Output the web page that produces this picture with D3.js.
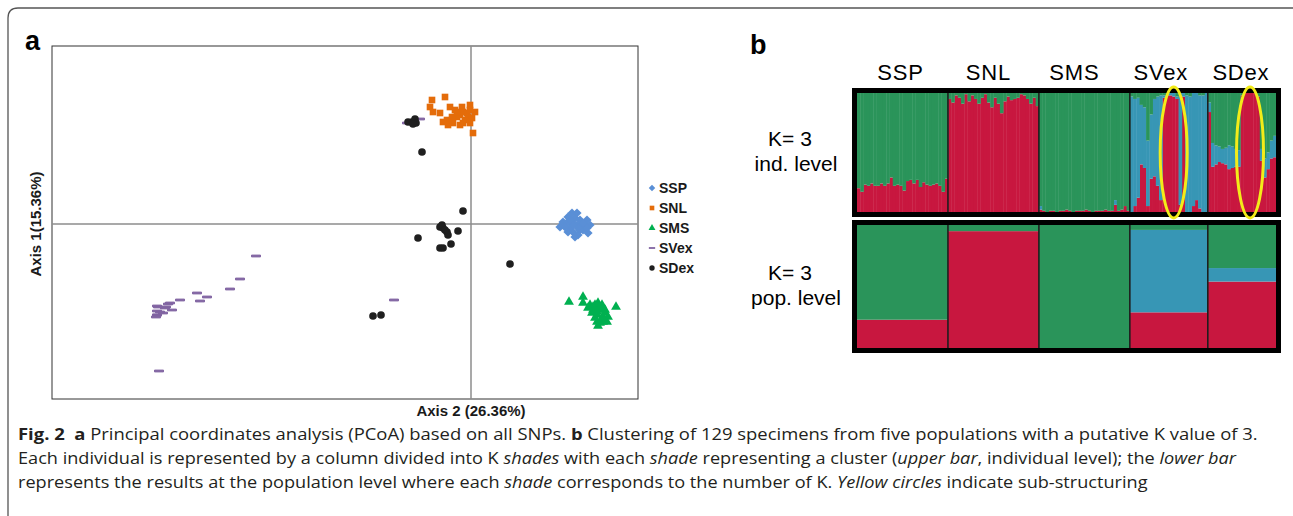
<!DOCTYPE html>
<html>
<head>
<meta charset="utf-8">
<script src="https://cdn.jsdelivr.net/npm/d3@7"></script>
<style>
  body { margin: 0; background: #fff; }
  svg { display: block; font-family: Arial, "Liberation Sans", sans-serif; }
</style>
</head>
<body>
<script>
// PCoA coordinates per population: [axis 2, axis 1]
var sspPoints = [[0.089,-0.003],[0.092,0.002],[0.097,0.007],[0.101,0.011],[0.104,0.006],[0.109,0.004],[0.116,0.004],
  [0.119,-0.001],[0.117,-0.009],[0.112,-0.006],[0.107,-0.011],[0.102,-0.008],[0.099,-0.004],[0.106,-0.001],
  [0.111,-0.001],[0.096,0.001],[0.101,0.002],[0.106,0.011],[0.114,-0.003],[0.109,-0.006],[0.104,-0.013],
  [0.097,-0.008],[0.094,-0.003],[0.116,-0.004],[0.107,-0.004],[0.102,-0.001],[0.099,0.004],[0.112,0.001]];
var snlPoints = [[-0.039,0.124],[-0.026,0.127],[-0.041,0.117],[-0.038,0.112],[-0.031,0.111],[-0.021,0.117],
  [-0.016,0.114],[-0.009,0.117],[-0.001,0.119],[0.004,0.112],[-0.004,0.111],[-0.011,0.109],[-0.024,0.104],
  [-0.018,0.101],[-0.014,0.107],[-0.006,0.104],[-0.001,0.101],[0.002,0.091],[-0.008,0.112],[-0.019,0.107],
  [-0.003,0.107],[-0.023,0.099],[-0.011,0.099],[0.001,0.106],[-0.028,0.102],[-0.014,0.112],[-0.001,0.114],
  [-0.008,0.101]];
var smsPoints = [[0.098,-0.078],[0.112,-0.073],[0.112,-0.079],[0.119,-0.081],[0.124,-0.081],[0.127,-0.079],
  [0.131,-0.081],[0.145,-0.083],[0.122,-0.086],[0.129,-0.086],[0.134,-0.089],[0.126,-0.091],[0.131,-0.094],
  [0.126,-0.098],[0.136,-0.098],[0.127,-0.102],[0.132,-0.093],[0.122,-0.083],[0.128,-0.083],[0.132,-0.084],
  [0.121,-0.089],[0.126,-0.088],[0.132,-0.098],[0.137,-0.093],[0.124,-0.094],[0.129,-0.099],[0.134,-0.086],
  [0.117,-0.084]];
var svexPoints = [[-0.215,-0.032],[-0.231,-0.055],[-0.241,-0.065],[-0.274,-0.069],[-0.264,-0.073],[-0.291,-0.076],
  [-0.271,-0.077],[-0.303,-0.080],[-0.314,-0.082],[-0.305,-0.083],[-0.299,-0.086],[-0.314,-0.087],[-0.308,-0.089],
  [-0.314,-0.091],[-0.315,-0.093],[-0.077,-0.076],[-0.312,-0.147],[-0.064,0.101],[-0.051,0.105],[-0.313,-0.083],
  [-0.314,-0.091],[-0.306,-0.084],[-0.301,-0.079],[-0.311,-0.088]];
var sdexPoints = [[-0.059,0.102],[-0.056,0.105],[-0.055,0.101],[-0.063,0.102],[-0.049,0.072],[-0.008,0.013],
  [-0.031,-0.003],[-0.028,-0.004],[-0.024,-0.008],[-0.023,-0.011],[-0.053,-0.014],[-0.013,-0.007],[-0.020,-0.020],
  [-0.031,-0.024],[-0.028,-0.024],[0.039,-0.040],[-0.098,-0.092],[-0.090,-0.091],[-0.029,-0.001],[-0.058,0.100],
  [-0.026,-0.006]];

var populations = ['SSP', 'SNL', 'SMS', 'SVex', 'SDex'];

// STRUCTURE K=3, individual level: membership of red and blue clusters (green is the rest)
var sspRed = [0.20,0.17,0.23,0.22,0.24,0.22,0.22,0.24,0.22,0.24,0.29,0.22,0.23,0.22,0.18,0.26,0.27,0.24,0.27,0.21,
  0.25,0.23,0.22,0.23,0.24,0.22,0.17,0.28];
var snlRed = [0.95,0.92,0.98,0.96,0.91,0.99,0.93,0.98,0.95,0.91,0.96,0.99,0.92,0.88,0.96,0.91,0.83,0.93,0.97,0.94,
  0.95,0.96,0.99,0.98,0.95,0.91,0.96,0.89];
var smsRed = [0.02,0.01,0,0.01,0.01,0,0.01,0.01,0.02,0.01,0,0.01,0.01,0.01,0.02,0.01,0,0.01,0.01,0.01,
  0.02,0.01,0.01,0.06,0.01,0.02,0.05,0.01];
var smsBlue = [0.03,0,0,0,0,0,0,0,0,0,0,0,0,0,0,0,0,0,0,0,0,0,0,0.04,0,0,0,0];
var svexRed = [0,0.05,0.12,0.40,0.37,0.05,0.28,0.30,0.22,0.10,0.96,0.98,0.98,0.97,0.95,0.06,0.97,0,0,0.05,
  0.10,0.03,0,0];
var svexBlue = [0.97,0.90,0.84,0.50,0.51,0.55,0.54,0.65,0.75,0.88,0.02,0.02,0.02,0.03,0.02,0.94,0.03,0.98,0.97,0.95,
  0.90,0.95,0.98,1.0];
var sdexRed = [0.84,0.38,0.40,0.42,0.41,0.40,0.36,0.37,0.38,0.38,0.98,1,1,1,1,0.97,0.43,0.29,0.36,0.45,0.46];
var sdexBlue = [0.08,0.20,0.16,0.13,0.12,0.14,0.20,0.18,0.15,0.14,0,0,0,0,0,0,0.10,0.16,0.14,0.15,0.18];

// population level
var popRed = [0.23, 0.95, 0, 0.29, 0.54];
var popBlue = [0, 0, 0, 0.67, 0.11];

// individuals circled in yellow: [population, first, last]
var subStructure = [['SVex', 10, 16], ['SDex', 10, 15]];

var width = 1293;
var height = 516;

var svg = d3.select('body').append('svg')
  .attr('width', width)
  .attr('height', height);

// outer figure frame (top-left corner only is visible)
svg.append('path')
  .attr('d', 'M8,' + height + ' L8,18 Q8,8 18,8 L' + width + ',8')
  .attr('fill', 'none')
  .attr('stroke', '#555')
  .attr('stroke-width', 1.3);

renderPCoA();
renderStructure();
renderCaption();

function renderPCoA() {
  var x = d3.scaleLinear().domain([-0.419, 0.167]).range([52, 638]);
  var y = d3.scaleLinear().domain([-0.175, 0.178]).range([399, 46]);

  svg.append('text')
    .attr('x', 25).attr('y', 50)
    .attr('font-size', 27).attr('font-weight', 'bold')
    .text('a');

  svg.append('rect')
    .attr('x', x.range()[0]).attr('y', y.range()[1])
    .attr('width', x.range()[1] - x.range()[0])
    .attr('height', y.range()[0] - y.range()[1])
    .attr('fill', 'none')
    .attr('stroke', '#333')
    .attr('stroke-width', 1);

  // zero axes
  svg.append('line')
    .attr('x1', x(0)).attr('x2', x(0))
    .attr('y1', y.range()[1]).attr('y2', y.range()[0])
    .attr('stroke', '#8c8c8c').attr('stroke-width', 1.5);
  svg.append('line')
    .attr('x1', x.range()[0]).attr('x2', x.range()[1])
    .attr('y1', y(0)).attr('y2', y(0))
    .attr('stroke', '#8c8c8c').attr('stroke-width', 1.5);

  svg.append('text')
    .attr('x', x(0)).attr('y', 416)
    .attr('text-anchor', 'middle')
    .attr('font-size', 15).attr('font-weight', 'bold')
    .attr('fill', '#1a1a1a')
    .text('Axis 2 (26.36%)');

  svg.append('text')
    .attr('transform', 'translate(41,' + y(0) + ') rotate(-90)')
    .attr('text-anchor', 'middle')
    .attr('font-size', 15).attr('font-weight', 'bold')
    .attr('fill', '#1a1a1a')
    .text('Axis 1(15.36%)');

  var series = [
    {name: 'SSP', points: sspPoints, color: '#5a8fd6', shape: 'diamond'},
    {name: 'SNL', points: snlPoints, color: '#e46c0a', shape: 'square'},
    {name: 'SMS', points: smsPoints, color: '#00b050', shape: 'triangle'},
    {name: 'SVex', points: svexPoints, color: '#8064a2', shape: 'dash'},
    {name: 'SDex', points: sdexPoints, color: '#1f1f1f', shape: 'circle'}
  ];

  series.forEach(function(s) {
    var g = svg.append('g').attr('class', 'series-' + s.name);
    g.selectAll('.pt')
      .data(s.points)
      .enter().append('path')
        .attr('class', 'pt')
        .attr('transform', function(d) { return 'translate(' + x(d[0]) + ',' + y(d[1]) + ')'; })
        .attr('d', markerPath(s.shape, 1))
        .attr('fill', s.color)
        .attr('stroke', s.shape === 'dash' ? s.color : 'none');
  });

  var legend = svg.append('g')
    .attr('transform', 'translate(652,188)');
  var items = legend.selectAll('g')
    .data(series)
    .enter().append('g')
      .attr('transform', function(d, i) { return 'translate(0,' + (i * 20) + ')'; });
  items.append('path')
    .attr('d', function(d) { return markerPath(d.shape, 0.7); })
    .attr('fill', function(d) { return d.color; });
  items.append('text')
    .attr('x', 7).attr('y', 5)
    .attr('font-size', 14).attr('font-weight', 'bold')
    .attr('fill', '#1a1a1a')
    .text(function(d) { return d.name; });
}

function markerPath(shape, k) {
  if (shape === 'diamond') {
    var h = 4.6 * k;
    return 'M0,' + (-h) + 'L' + h + ',0L0,' + h + 'L' + (-h) + ',0Z';
  }
  if (shape === 'square') {
    return d3.symbol().type(d3.symbolSquare).size(44 * k * k)();
  }
  if (shape === 'triangle') {
    return d3.symbol().type(d3.symbolTriangle).size(42 * k * k)();
  }
  if (shape === 'dash') {
    var w = 4.5 * k;
    return 'M' + (-w) + ',-0.9H' + w + 'V0.9H' + (-w) + 'Z';
  }
  return d3.symbol().type(d3.symbolCircle).size(46 * k * k)();
}

function renderStructure() {
  var colors = {red: '#c8173f', blue: '#3796b5', green: '#2a945a'};
  var keys = ['red', 'blue', 'green'];

  var redByPop = {SSP: sspRed, SNL: snlRed, SMS: smsRed, SVex: svexRed, SDex: sdexRed};
  var blueByPop = {SMS: smsBlue, SVex: svexBlue, SDex: sdexBlue};
  // headings are not quite centred over their columns in the original
  var headingShift = {SSP: -2, SNL: -5, SMS: -10, SVex: -8, SDex: -1};

  var individuals = [];
  var popStart = {};
  var popEnd = {};
  populations.forEach(function(pop) {
    popStart[pop] = individuals.length;
    redByPop[pop].forEach(function(r, i) {
      var b = blueByPop[pop] ? blueByPop[pop][i] : 0;
      individuals.push({id: pop + '-' + i, pop: pop, red: r, blue: b, green: Math.max(0, 1 - r - b)});
    });
    popEnd[pop] = individuals.length;
  });

  var x = d3.scaleBand()
    .domain(individuals.map(function(d) { return d.id; }))
    .range([857, 1276])
    .paddingInner(0);
  var step = x.step();
  function edge(index) { return x.range()[0] + index * step; }

  var upperY = d3.scaleLinear().domain([0, 1]).range([212, 93]);
  var lowerY = d3.scaleLinear().domain([0, 1]).range([348, 225]);

  svg.append('text')
    .attr('x', 750).attr('y', 54)
    .attr('font-size', 27).attr('font-weight', 'bold')
    .text('b');

  svg.selectAll('.pop-label')
    .data(populations)
    .enter().append('text')
      .attr('class', 'pop-label')
      .attr('x', function(p) { return (edge(popStart[p]) + edge(popEnd[p])) / 2 + headingShift[p]; })
      .attr('y', 80)
      .attr('text-anchor', 'middle')
      .attr('font-size', 22)
      .attr('letter-spacing', 0.8)
      .text(function(p) { return p; });

  // upper bar: individuals
  var stack = d3.stack().keys(keys);
  var indLayers = stack(individuals);
  var upper = svg.append('g');
  upper.selectAll('g')
    .data(indLayers)
    .enter().append('g')
      .attr('fill', function(d) { return colors[d.key]; })
    .selectAll('rect')
    .data(function(d) { return d; })
    .enter().append('rect')
      .attr('x', function(d) { return x(d.data.id); })
      .attr('width', step + 0.4)
      .attr('y', function(d) { return upperY(d[1]); })
      .attr('height', function(d) { return Math.max(0, upperY(d[0]) - upperY(d[1])); });

  // lower bar: populations
  var popRows = populations.map(function(p, i) {
    return {pop: p, red: popRed[i], blue: popBlue[i], green: Math.max(0, 1 - popRed[i] - popBlue[i])};
  });
  var popLayers = stack(popRows);
  var lower = svg.append('g');
  lower.selectAll('g')
    .data(popLayers)
    .enter().append('g')
      .attr('fill', function(d) { return colors[d.key]; })
    .selectAll('rect')
    .data(function(d) { return d; })
    .enter().append('rect')
      .attr('x', function(d) { return edge(popStart[d.data.pop]); })
      .attr('width', function(d) { return edge(popEnd[d.data.pop]) - edge(popStart[d.data.pop]); })
      .attr('y', function(d) { return lowerY(d[1]); })
      .attr('height', function(d) { return Math.max(0, lowerY(d[0]) - lowerY(d[1])); });

  [upperY, lowerY].forEach(function(yy) {
    // population separators
    svg.selectAll(null)
      .data(populations.slice(1))
      .enter().append('line')
        .attr('x1', function(p) { return edge(popStart[p]); })
        .attr('x2', function(p) { return edge(popStart[p]); })
        .attr('y1', yy(1)).attr('y2', yy(0))
        .attr('stroke', '#1e1e1e').attr('stroke-width', 1.6);

    svg.append('rect')
      .attr('x', x.range()[0] - 2.5)
      .attr('y', yy(1) - 2.5)
      .attr('width', x.range()[1] - x.range()[0] + 5)
      .attr('height', yy(0) - yy(1) + 5)
      .attr('fill', 'none')
      .attr('stroke', '#000')
      .attr('stroke-width', 5);
  });

  // yellow ellipses marking sub-structuring
  svg.selectAll('.sub')
    .data(subStructure)
    .enter().append('ellipse')
      .attr('class', 'sub')
      .attr('cx', function(d) { return (edge(popStart[d[0]] + d[1]) + edge(popStart[d[0]] + d[2] + 1)) / 2; })
      .attr('cy', (upperY(0) + upperY(1)) / 2)
      .attr('rx', 13.5)
      .attr('ry', (upperY(0) - upperY(1)) / 2 + 6)
      .attr('fill', 'none')
      .attr('stroke', '#f3ec19')
      .attr('stroke-width', 3);

  var rowLabels = [
    {lines: ['K= 3', 'ind. level'], y: upperY},
    {lines: ['K= 3', 'pop. level'], y: lowerY}
  ];
  rowLabels.forEach(function(r) {
    var mid = (r.y(0) + r.y(1)) / 2;
    svg.append('text')
      .attr('x', 790).attr('y', mid - 7)
      .attr('text-anchor', 'middle')
      .attr('font-size', 21)
      .text(r.lines[0]);
    svg.append('text')
      .attr('x', 796).attr('y', mid + 18)
      .attr('text-anchor', 'middle')
      .attr('font-size', 21)
      .text(r.lines[1]);
  });
}

function renderCaption() {
  var lines = [
    {y: 440, parts: [['Fig. 2', 'b'], ['  '], ['a', 'b'], [' Principal coordinates analysis (PCoA) based on all SNPs. '],
      ['b', 'b'], [' Clustering of 129 specimens from five populations with a putative K value of 3.']]},
    {y: 464, parts: [['Each individual is represented by a column divided into K '], ['shades', 'i'],
      [' with each '], ['shade', 'i'], [' representing a cluster ('], ['upper bar', 'i'],
      [', individual level); the '], ['lower bar', 'i']]},
    {y: 488, parts: [['represents the results at the population level where each '], ['shade', 'i'],
      [' corresponds to the number of K. '], ['Yellow circles', 'i'], [' indicate sub-structuring']]}
  ];
  // widths of the three lines in the original
  var lineWidth = [1240, 1219, 1130];

  var caption = svg.append('g')
    .attr('font-family', '"Open Sans", "Noto Sans", sans-serif')
    .attr('font-size', 16)
    .attr('fill', '#231f20');

  lines.forEach(function(line, i) {
    var t = caption.append('text')
      .attr('x', 0).attr('y', 0)
      .attr('xml:space', 'preserve');
    line.parts.forEach(function(p) {
      t.append('tspan')
        .attr('font-weight', p[1] === 'b' ? 'bold' : null)
        .attr('font-style', p[1] === 'i' ? 'italic' : null)
        .text(p[0]);
    });
    // stretch each line sideways to the width it has in the original
    var f = lineWidth[i] / t.node().getComputedTextLength();
    t.attr('transform', 'translate(18,' + line.y + ') scale(' + f + ',1)');
  });
}
</script>
</body>
</html>
